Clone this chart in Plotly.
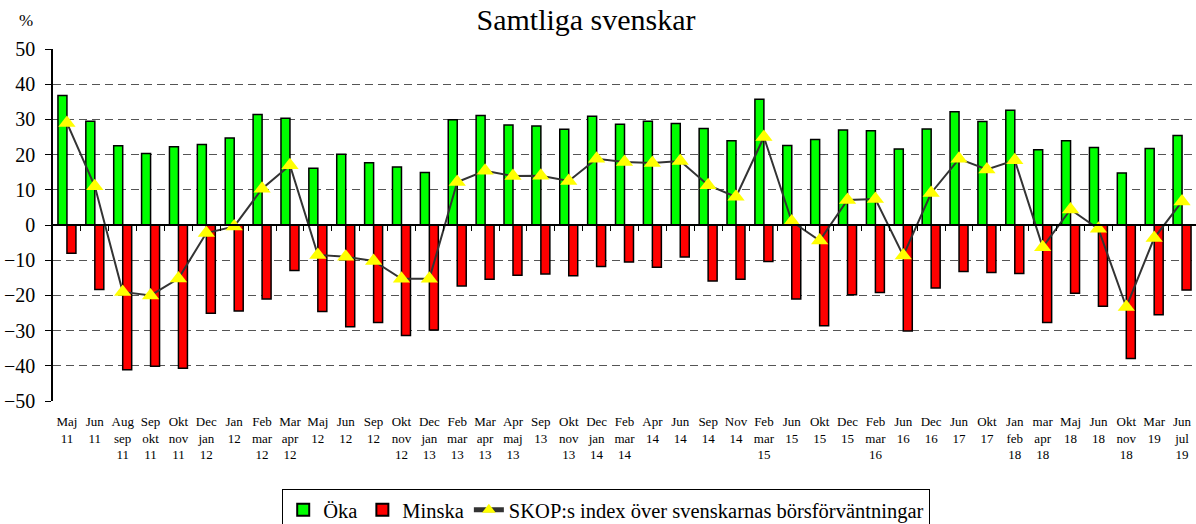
import numpy as np
import plotly.graph_objects as go

categories = ["Maj 11", "Jun 11", "Aug sep 11", "Sep okt 11", "Okt nov 11", "Dec jan 12",
              "Jan 12", "Feb mar 12", "Mar apr 12", "Maj 12", "Jun 12", "Sep 12",
              "Okt nov 12", "Dec jan 13", "Feb mar 13", "Mar apr 13", "Apr maj 13", "Sep 13",
              "Okt nov 13", "Dec jan 14", "Feb mar 14", "Apr 14", "Jun 14", "Sep 14",
              "Nov 14", "Feb mar 15", "Jun 15", "Okt 15", "Dec 15", "Feb mar 16",
              "Jun 16", "Dec 16", "Jun 17", "Okt 17", "Jan feb 18", "mar apr 18",
              "Maj 18", "Jun 18", "Okt nov 18", "Mar 19", "Jun jul 19"]

oka = [36.8, 29.5, 22.5, 20.3, 22.2, 22.9, 24.7, 31.4, 30.3, 16.1, 20.1, 17.7,
       16.5, 14.9, 29.9, 31.1, 28.4, 28.1, 27.2, 30.9, 28.6, 29.5, 28.8, 27.4,
       23.9, 35.7, 22.6, 24.3, 27.0, 26.8, 21.6, 27.3, 32.2, 29.4, 32.6, 21.4,
       23.9, 22.0, 14.8, 21.7, 25.4]

minska = [-8.0, -18.3, -41.1, -40.1, -40.7, -25.1, -24.4, -21.0, -12.9, -24.6, -28.9, -27.7,
          -31.4, -29.8, -17.3, -15.4, -14.3, -13.9, -14.4, -11.8, -10.5, -12.0, -9.1, -15.9,
          -15.4, -10.4, -21.0, -28.6, -19.8, -19.2, -30.1, -17.9, -13.2, -13.5, -13.8, -27.7,
          -19.4, -23.1, -37.9, -25.5, -18.5]

index = [29.0, 11.0, -19.0, -20.0, -15.2, -2.3, -0.4, 10.3, 17.0, -8.5, -9.0, -10.2,
         -15.3, -15.3, 12.2, 15.4, 13.9, 14.0, 12.5, 18.8, 17.9, 17.6, 18.2, 11.3,
         8.0, 25.0, 1.0, -4.4, 7.1, 7.4, -8.7, 9.1, 18.8, 15.8, 18.4, -6.3,
         4.4, -1.1, -23.3, -3.7, 6.7]

ticktext = [c.replace(" ", "<br>") for c in categories]
serif = "Liberation Serif, Times New Roman, serif"

fig = go.Figure()
fig.add_trace(go.Bar(x=categories, y=oka, name="Öka",
                     marker=dict(color="#00FF00", line=dict(color="black", width=1.5))))
fig.add_trace(go.Bar(x=categories, y=minska, name="Minska",
                     marker=dict(color="#FF0000", line=dict(color="black", width=1.5))))
fig.add_trace(go.Scatter(x=categories, y=index, mode="lines+markers",
                         name="SKOP:s index över svenskarnas börsförväntningar",
                         line=dict(color="#333333", width=2),
                         marker=dict(symbol="triangle-up", size=15, color="#FFFF00",
                                     line=dict(width=0))))
# helper trace for the zero-line axis with its tick marks
fig.add_trace(go.Scatter(x=[None], y=[None], xaxis="x2", yaxis="y",
                         showlegend=False, hoverinfo="skip"))

n = len(categories)
fig.update_layout(
    width=1196, height=524,
    paper_bgcolor="white", plot_bgcolor="white",
    margin=dict(l=53, r=0, t=49, b=123, autoexpand=False),
    barmode="group", bargap=0.355, bargroupgap=0,
    font=dict(family=serif, color="black"),
    title=dict(text="Samtliga svenskar", x=0.49, xanchor="center", y=0.963, yanchor="middle",
               font=dict(family=serif, size=30, color="black")),
    xaxis=dict(type="category", tickmode="array", tickvals=categories, ticktext=ticktext,
               tickfont=dict(family=serif, size=13, color="black"),
               showgrid=False, showline=False, zeroline=False, automargin=False,
               ticks="outside", ticklen=8, tickcolor="rgba(0,0,0,0)",
               range=[-0.5, n - 0.5]),
    xaxis2=dict(overlaying="x", anchor="free", position=0.5, range=[-0.5, n - 0.5],
                tickmode="array", tickvals=list(np.arange(0.5, n - 0.5, 1.0)),
                showticklabels=False, ticks="outside", ticklen=5, tickcolor="black",
                tickwidth=1, showline=True, linecolor="black", linewidth=1.5,
                showgrid=False, zeroline=False, automargin=False),
    yaxis=dict(range=[-50, 50], dtick=10, tick0=0, automargin=False,
               tickfont=dict(family=serif, size=20, color="black"),
               showgrid=True, gridcolor="#555555", gridwidth=1, griddash="8px,5px",
               zeroline=False, showline=True, linecolor="black", linewidth=1.5,
               ticks="outside", ticklen=6, tickcolor="black", ticklabelstandoff=6),
    legend=dict(orientation="h", x=0.484, xanchor="center", y=-0.25, yanchor="top",
                bordercolor="black", borderwidth=1, bgcolor="white",
                font=dict(family=serif, size=20.5, color="black"),
                itemsizing="constant", tracegroupgap=0),
    annotations=[dict(text="%", xref="paper", yref="paper", x=-0.024, y=1.08,
                      xanchor="center", yanchor="middle", showarrow=False,
                      font=dict(family=serif, size=17, color="black"))],
)

fig.write_html("out.html", config={"displayModeBar": False},
               post_script="document.body.style.margin='0';")
